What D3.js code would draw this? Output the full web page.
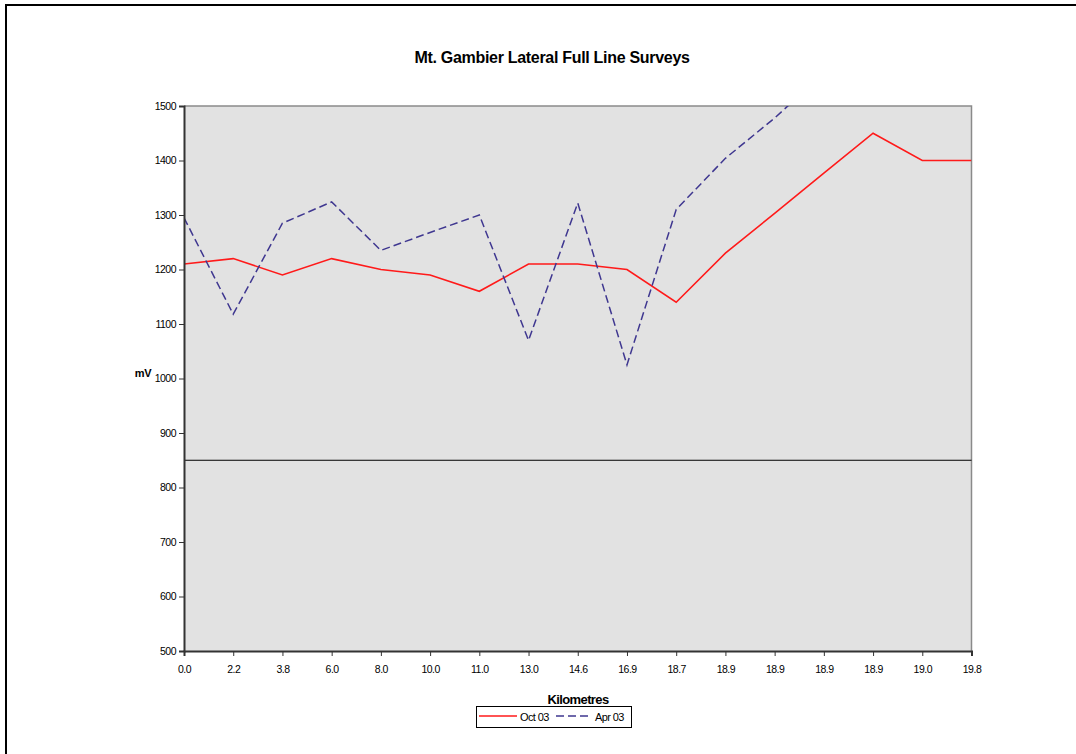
<!DOCTYPE html>
<html>
<head>
<meta charset="utf-8">
<script src="https://cdn.jsdelivr.net/npm/d3@7"></script>
<style>
  html, body { margin: 0; padding: 0; background: #fff; }
  svg { display: block; font-family: Arial, "Liberation Sans", sans-serif; }
</style>
</head>
<body>
<svg id="chart" width="1076" height="754"></svg>
<script>
// Survey chainage (km) along the lateral, one label per survey point
const kmLabels = ["0.0", "2.2", "3.8", "6.0", "8.0", "10.0", "11.0", "13.0", "14.6",
                  "16.9", "18.7", "18.9", "18.9", "18.9", "18.9", "19.0", "19.8"];
// Pipe-to-soil potential readings, mV
const oct03 = [1210, 1220, 1190, 1220, 1200, 1190, 1160, 1210, 1210,
               1200, 1140, 1230, 1303, 1377, 1450, 1400, 1400];
const apr03 = [1295, 1118, 1285, 1324, 1235, 1268, 1300, 1070, 1322,
               1025, 1310, 1404, 1478, 1560, null, null, null];
// Protection criterion reference level
const criterion = 850;
const yTicks = [500, 600, 700, 800, 900, 1000, 1100, 1200, 1300, 1400, 1500];

const svg = d3.select("#chart");

// Outer chart frame
svg.append("rect")
  .attr("x", 6).attr("y", 5).attr("width", 1090).attr("height", 770)
  .attr("fill", "none").attr("stroke", "#000").attr("stroke-width", 2);

const plot = { left: 184, right: 971.5, top: 106, bottom: 651 };

const x = d3.scalePoint()
  .domain(d3.range(kmLabels.length))
  .range([plot.left, plot.right]);

const y = d3.scaleLinear()
  .domain([500, 1500])
  .range([plot.bottom, plot.top]);

// Plot background
svg.append("rect")
  .attr("x", plot.left).attr("y", plot.top)
  .attr("width", plot.right - plot.left).attr("height", plot.bottom - plot.top)
  .attr("fill", "#e2e2e2");

// Top and right edges of the plot area
svg.append("path")
  .attr("d", `M${plot.left},${plot.top}H${plot.right}V${plot.bottom}`)
  .attr("fill", "none").attr("stroke", "#8a8a8a").attr("stroke-width", 1.5);

svg.append("defs").append("clipPath").attr("id", "plotClip")
  .append("rect")
  .attr("x", plot.left).attr("y", plot.top)
  .attr("width", plot.right - plot.left).attr("height", plot.bottom - plot.top);

// Criterion line
svg.append("line")
  .attr("x1", plot.left).attr("x2", plot.right)
  .attr("y1", y(criterion)).attr("y2", y(criterion))
  .attr("stroke", "#000").attr("stroke-width", 1);

const line = d3.line()
  .defined(d => d != null)
  .x((d, i) => x(i))
  .y(d => y(d));

const series = svg.append("g").attr("clip-path", "url(#plotClip)");

series.append("path")
  .datum(oct03)
  .attr("d", line)
  .attr("fill", "none").attr("stroke", "#ff1a1a").attr("stroke-width", 1.6)
  .attr("stroke-linejoin", "miter");

series.append("path")
  .datum(apr03)
  .attr("d", line)
  .attr("fill", "none").attr("stroke", "#3f3790").attr("stroke-width", 1.5)
  .attr("stroke-dasharray", "8,4");

// Y axis
const yAxis = svg.append("g")
  .attr("transform", `translate(${plot.left},0)`)
  .call(d3.axisLeft(y).tickValues(yTicks).tickSize(5).tickPadding(3).tickFormat(d3.format("d")));
yAxis.select(".domain").attr("stroke", "#333").attr("stroke-width", 2);
yAxis.selectAll(".tick line").attr("stroke", "#333").attr("stroke-width", 1);
yAxis.selectAll("text").attr("font-size", 10.5).attr("fill", "#000")
  .attr("letter-spacing", "-0.5").attr("font-family", "Arial, 'Liberation Sans', sans-serif");

// X axis
const xAxis = svg.append("g")
  .attr("transform", `translate(0,${plot.bottom})`)
  .call(d3.axisBottom(x).tickSize(5).tickPadding(10).tickFormat(i => kmLabels[i]));
xAxis.select(".domain").attr("stroke", "#333").attr("stroke-width", 2);
xAxis.selectAll(".tick line").attr("stroke", "#333").attr("stroke-width", 1);
xAxis.selectAll("text").attr("font-size", 10.5).attr("fill", "#000")
  .attr("letter-spacing", "-0.5").attr("font-family", "Arial, 'Liberation Sans', sans-serif");

// Title
svg.append("text")
  .attr("x", 552).attr("y", 63)
  .attr("text-anchor", "middle")
  .attr("font-size", 16).attr("font-weight", "bold")
  .attr("letter-spacing", "-0.3")
  .text("Mt. Gambier Lateral Full Line Surveys");

// Axis titles
svg.append("text")
  .attr("x", 143).attr("y", 377)
  .attr("text-anchor", "middle")
  .attr("font-size", 11).attr("font-weight", "bold").attr("letter-spacing", "-0.4")
  .text("mV");

svg.append("text")
  .attr("x", 578).attr("y", 704)
  .attr("text-anchor", "middle")
  .attr("font-size", 13).attr("font-weight", "bold").attr("letter-spacing", "-0.6")
  .text("Kilometres");

// Legend
const legendItems = [
  { name: "Oct 03", color: "#ff1a1a", dash: null, x0: 479, x1: 517, tx: 520 },
  { name: "Apr 03", color: "#3f3790", dash: "8,4", x0: 556, x1: 592, tx: 595 }
];
const legend = svg.append("g");
legend.append("rect")
  .attr("x", 476.5).attr("y", 706.5).attr("width", 155).attr("height", 21)
  .attr("fill", "#fff").attr("stroke", "#000").attr("stroke-width", 1);
legendItems.forEach(it => {
  legend.append("line")
    .attr("x1", it.x0).attr("x2", it.x1).attr("y1", 716).attr("y2", 716)
    .attr("stroke", it.color).attr("stroke-width", 1.6)
    .attr("stroke-dasharray", it.dash);
  legend.append("text")
    .attr("x", it.tx).attr("y", 720.5)
    .attr("font-size", 11).attr("letter-spacing", "-0.6")
    .text(it.name);
});
</script>
</body>
</html>
